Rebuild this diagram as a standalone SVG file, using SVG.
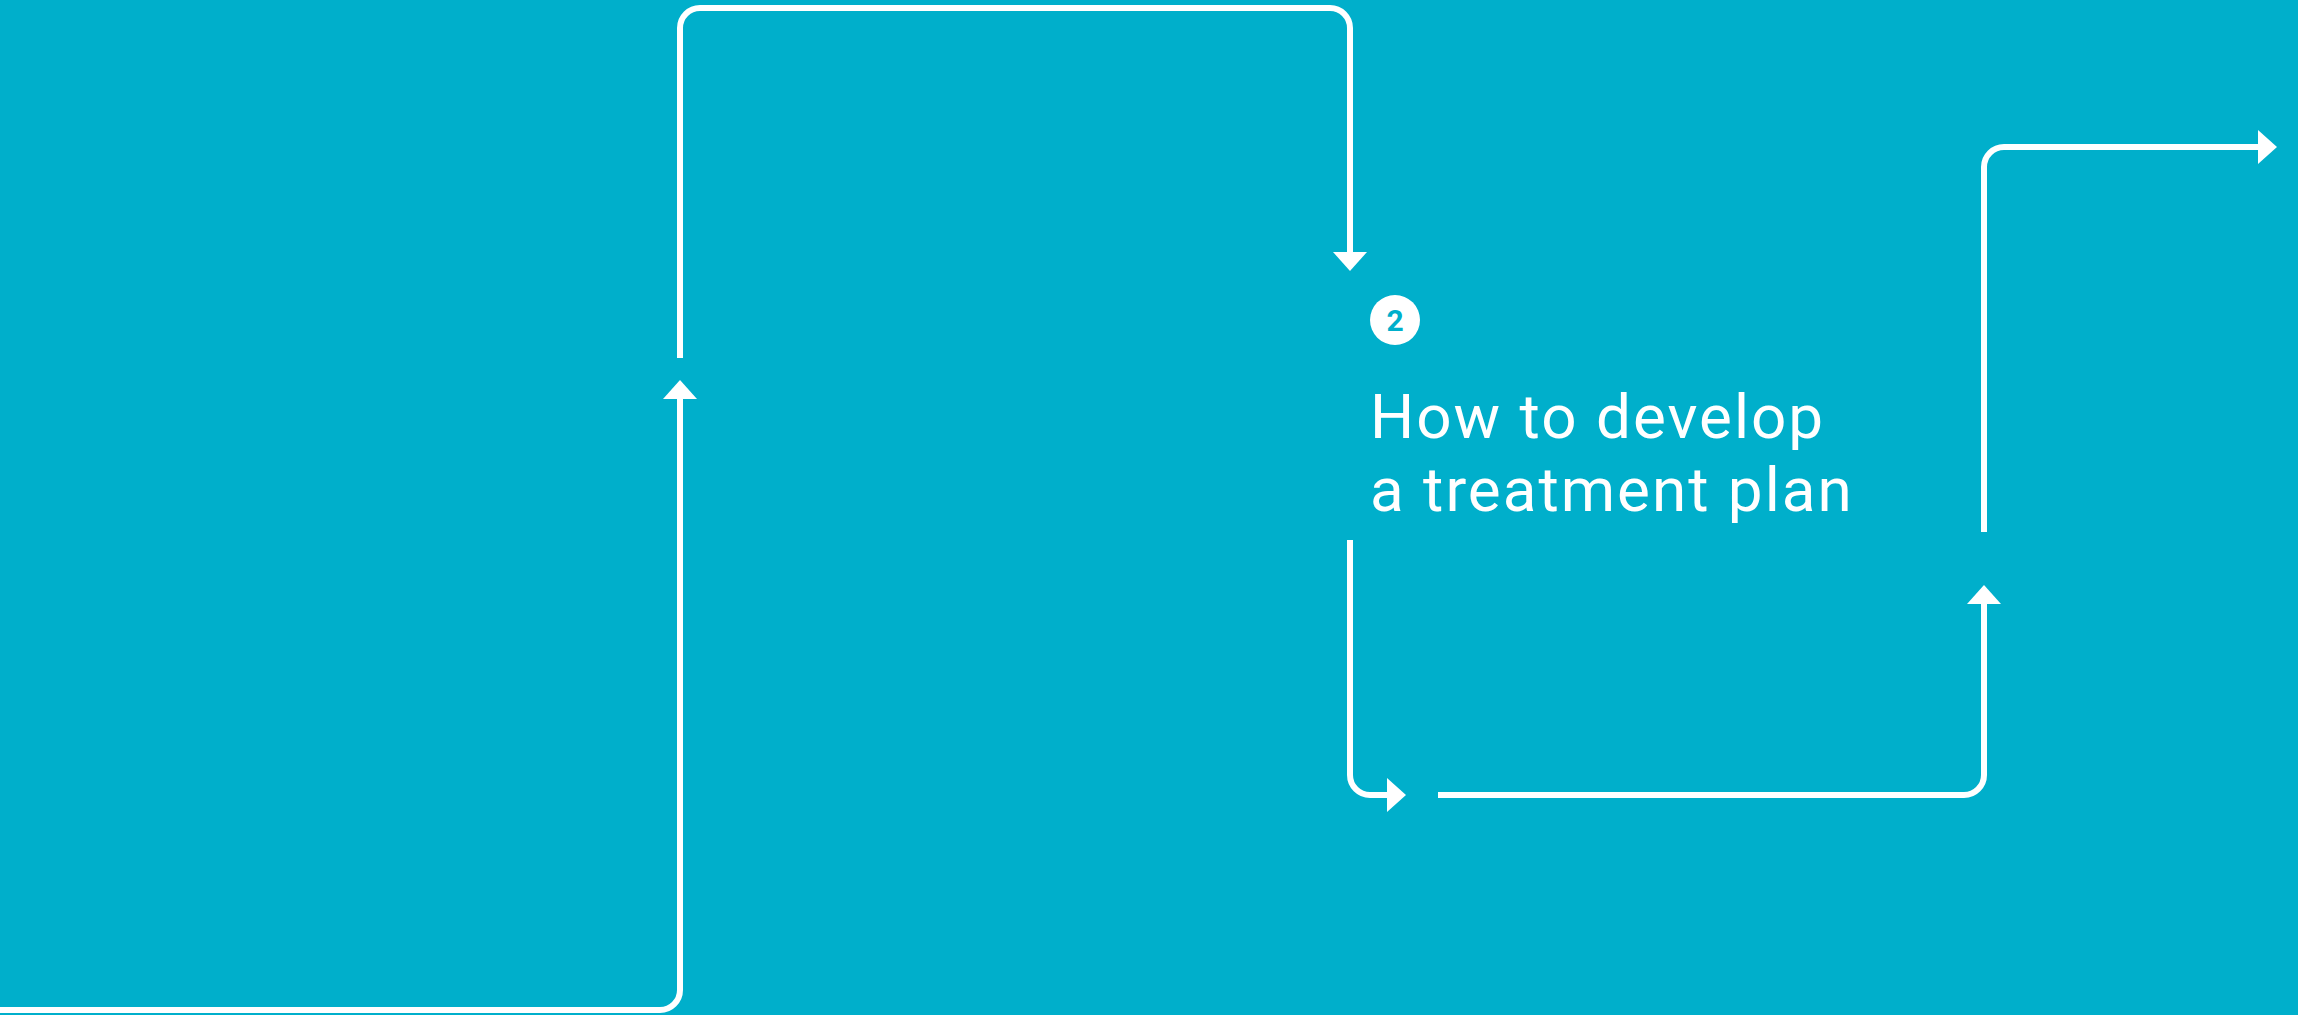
<svg xmlns="http://www.w3.org/2000/svg" width="2298" height="1015" viewBox="0 0 2298 1015">
<style>
.bg{fill:#00afcb}
.conn{fill:none;stroke:#ffffff;stroke-width:6;marker-end:url(#arrow)}
.title{font-family:Roboto,"Liberation Sans",sans-serif;font-size:62px;letter-spacing:2px;fill:#ffffff}
.num{font-family:Roboto,"Liberation Sans",sans-serif;font-size:30px;font-weight:700;fill:#00afcb}
</style>
<defs>
<marker id="arrow" viewBox="0 0 19 34" refX="0" refY="17" markerWidth="19" markerHeight="34" markerUnits="userSpaceOnUse" orient="auto">
<path d="M0,0 L19,17 L0,34 Z" fill="#ffffff"/>
</marker>
</defs>
<rect class="bg" x="0" y="0" width="2298" height="1015"/>
<g id="connectors">
<path class="conn" d="M0,1010 H660 A20,20 0 0 0 680,990 V399"/>
<path class="conn" d="M680,358 V28 A20,20 0 0 1 700,8 H1330 A20,20 0 0 1 1350,28 V252"/>
<path class="conn" d="M1350,540 V775 A20,20 0 0 0 1370,795 H1387"/>
<path class="conn" d="M1438,795 H1964 A20,20 0 0 0 1984,775 V604"/>
<path class="conn" d="M1984,532 V167 A20,20 0 0 1 2004,147 H2258"/>
</g>
<g id="step2">
<circle cx="1395" cy="320" r="25" fill="#ffffff"/>
<text class="num" x="1395" y="331" text-anchor="middle">2</text>
<text class="title" x="1370" y="438">How to develop</text>
<text class="title" x="1370" y="511">a treatment plan</text>
</g>
</svg>
